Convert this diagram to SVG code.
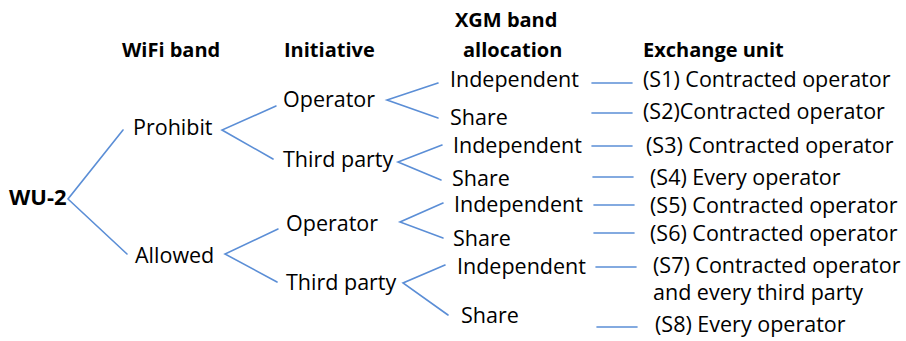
<svg xmlns="http://www.w3.org/2000/svg" width="906" height="341" viewBox="0 0 906 341">
  <style>
    text { font-family: "Open Sans", "Noto Sans", sans-serif; font-size: 21.5px; fill: #000; }
    .hd { font-weight: bold; font-size: 20px; }
    .root { font-weight: bold; font-size: 22px; }
    .ln { fill: none; stroke: #5b8ed6; stroke-width: 1.6; stroke-linecap: round; stroke-linejoin: miter; }
  </style>
  <rect width="906" height="341" fill="#ffffff"/>

  <!-- column headings -->
  <g id="headings">
    <text class="hd" x="122" y="57">WiFi band</text>
    <text class="hd" x="284" y="57">Initiative</text>
    <text class="hd" x="455" y="27">XGM band</text>
    <text class="hd" x="463" y="57">allocation</text>
    <text class="hd" x="643" y="57">Exchange unit</text>
  </g>

  <!-- connectors -->
  <g id="connectors">
    <polyline class="ln" points="123,130 68,199 127,254"/>
    <polyline class="ln" points="276,106 222,130 273,159"/>
    <polyline class="ln" points="278,229 225,254 277,282"/>
    <polyline class="ln" points="438,83 387,100 438,118"/>
    <polyline class="ln" points="442,145 398,162 441,180"/>
    <polyline class="ln" points="443,203 400,222 443,238"/>
    <polyline class="ln" points="445,265 403,283 448,315"/>
    <line class="ln" x1="592" y1="83" x2="632" y2="83"/>
    <line class="ln" x1="592" y1="113" x2="632" y2="113"/>
    <line class="ln" x1="592" y1="146" x2="632" y2="146"/>
    <line class="ln" x1="593" y1="177" x2="633" y2="177"/>
    <line class="ln" x1="594" y1="205" x2="634" y2="205"/>
    <line class="ln" x1="594" y1="233" x2="634" y2="233"/>
    <line class="ln" x1="596" y1="267" x2="636" y2="267"/>
    <line class="ln" x1="597" y1="327" x2="637" y2="327"/>
  </g>

  <!-- root -->
  <g id="wu2"><text class="root" x="9" y="205">WU-2</text></g>

  <!-- WiFi band -->
  <g id="prohibit"><text x="133" y="135">Prohibit</text></g>
  <g id="allowed"><text x="135" y="263">Allowed</text></g>

  <!-- initiative -->
  <g id="operator-1"><text x="283" y="107">Operator</text></g>
  <g id="third-party-1"><text x="283" y="167">Third party</text></g>
  <g id="operator-2"><text x="286" y="231">Operator</text></g>
  <g id="third-party-2"><text x="286" y="290">Third party</text></g>

  <!-- XGM band allocation -->
  <g id="independent-1"><text x="450" y="87">Independent</text></g>
  <g id="share-1"><text x="450" y="125">Share</text></g>
  <g id="independent-2"><text x="453" y="153">Independent</text></g>
  <g id="share-2"><text x="452" y="186">Share</text></g>
  <g id="independent-3"><text x="454" y="212">Independent</text></g>
  <g id="share-3"><text x="453" y="246">Share</text></g>
  <g id="independent-4"><text x="457" y="274">Independent</text></g>
  <g id="share-4"><text x="461" y="323">Share</text></g>

  <!-- exchange units -->
  <g id="s1"><text x="643" y="87">(S1) Contracted operator</text></g>
  <g id="s2"><text x="643" y="119">(S2)Contracted operator</text></g>
  <g id="s3"><text x="646" y="153">(S3) Contracted operator</text></g>
  <g id="s4"><text x="650" y="185">(S4) Every operator</text></g>
  <g id="s5"><text x="650" y="213">(S5) Contracted operator</text></g>
  <g id="s6"><text x="650" y="241">(S6) Contracted operator</text></g>
  <g id="s7">
    <text x="653" y="273">(S7) Contracted operator</text>
    <text x="653" y="300">and every third party</text>
  </g>
  <g id="s8"><text x="655" y="332">(S8) Every operator</text></g>
</svg>
